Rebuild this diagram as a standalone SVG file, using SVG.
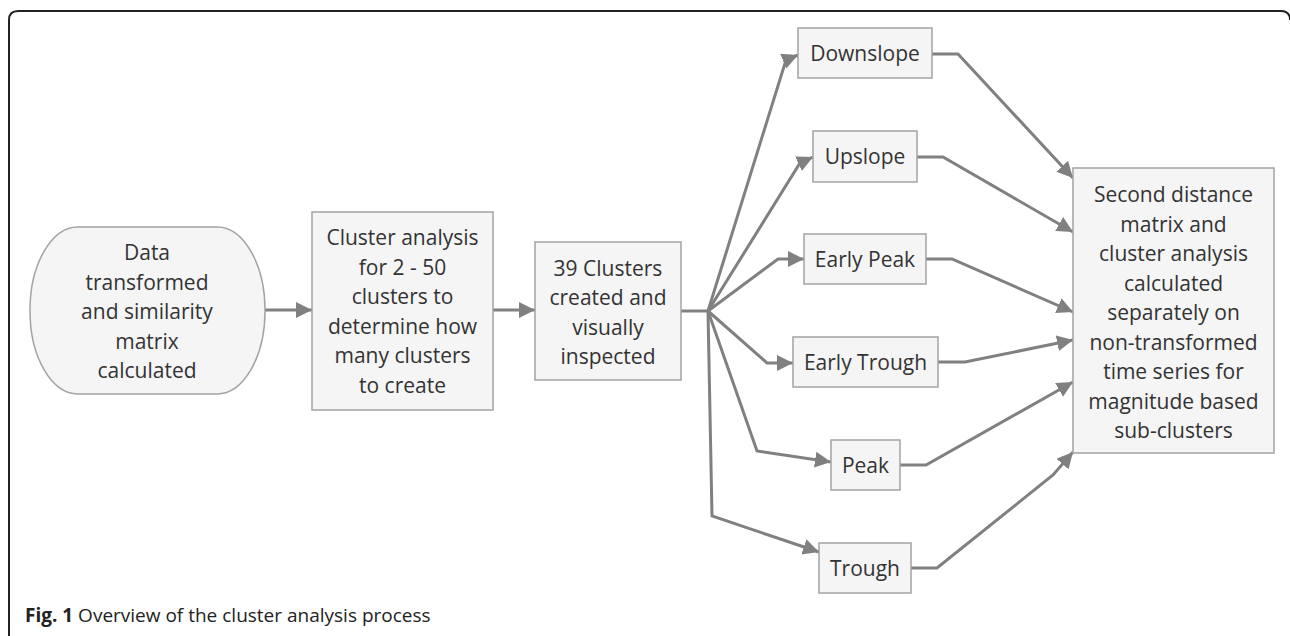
<svg xmlns="http://www.w3.org/2000/svg" width="1290" height="636" viewBox="0 0 1290 636">
<style>
.box{fill:#f5f5f5;stroke:#a3a3a3;stroke-width:1.5}
.t{font-family:"Open Sans","Noto Sans",sans-serif;font-size:21px;fill:#333;text-anchor:middle}
.c{fill:none;stroke:#808080;stroke-width:3;stroke-linejoin:miter;marker-end:url(#ah)}
.cap{font-family:"Open Sans","Noto Sans",sans-serif;font-size:19px;fill:#222}
</style>
<defs>
<marker id="ah" markerUnits="userSpaceOnUse" markerWidth="17" markerHeight="16" refX="16" refY="8" orient="auto">
<path d="M0,0 L16,8 L0,16 z" fill="#808080"/>
</marker>
</defs>
<rect width="1290" height="636" fill="#fff"/>
<path d="M9,636 V20 Q9,11 18,11 H1281 Q1290,11 1290,20" fill="none" stroke="#222" stroke-width="2"/>

<g id="connectors">
<path class="c" d="M265,310 H312"/>
<path class="c" d="M493,310 H535"/>
<path d="M681,311 H708" fill="none" stroke="#808080" stroke-width="3"/>
<path class="c" d="M708,311 L786,60 L798,55"/>
<path class="c" d="M708,311 L800,163 L813,157"/>
<path class="c" d="M708,311 L778,259 H804"/>
<path class="c" d="M708,311 L767,363 H793"/>
<path class="c" d="M708,311 L757,451 L831,462"/>
<path class="c" d="M708,311 L712,516 L819,552"/>
<path class="c" d="M932,54 H958 L1073,178"/>
<path class="c" d="M917,157 H943 L1073,232"/>
<path class="c" d="M926,259 H952 L1073,312"/>
<path class="c" d="M938,362 H965 L1073,340"/>
<path class="c" d="M900,465 H926 L1073,382"/>
<path class="c" d="M911,568 H937 L1053,475 L1073,452"/>
</g>

<g id="n1">
<rect class="box" x="30" y="227" width="235" height="167" rx="48" ry="83"/>
<text class="t" x="147" y="260">Data</text>
<text class="t" x="147" y="289.5">transformed</text>
<text class="t" x="147" y="319">and similarity</text>
<text class="t" x="147" y="348.5">matrix</text>
<text class="t" x="147" y="378">calculated</text>
</g>

<g id="n2">
<rect class="box" x="312" y="212" width="181" height="198"/>
<text class="t" x="402.5" y="245">Cluster analysis</text>
<text class="t" x="402.5" y="274.5">for 2 - 50</text>
<text class="t" x="402.5" y="304">clusters to</text>
<text class="t" x="402.5" y="333.5">determine how</text>
<text class="t" x="402.5" y="363">many clusters</text>
<text class="t" x="402.5" y="392.5">to create</text>
</g>

<g id="n3">
<rect class="box" x="535" y="242" width="146" height="138"/>
<text class="t" x="608" y="275.5">39 Clusters</text>
<text class="t" x="608" y="305">created and</text>
<text class="t" x="608" y="334.5">visually</text>
<text class="t" x="608" y="364">inspected</text>
</g>

<g id="downslope">
<rect class="box" x="798" y="28" width="134" height="50"/>
<text class="t" x="865" y="61">Downslope</text>
</g>
<g id="upslope">
<rect class="box" x="813" y="131" width="104" height="51"/>
<text class="t" x="865" y="164">Upslope</text>
</g>
<g id="earlypeak">
<rect class="box" x="804" y="234" width="122" height="50"/>
<text class="t" x="865" y="267">Early Peak</text>
</g>
<g id="earlytrough">
<rect class="box" x="793" y="337" width="145" height="50"/>
<text class="t" x="865.5" y="370">Early Trough</text>
</g>
<g id="peak">
<rect class="box" x="831" y="440" width="69" height="50"/>
<text class="t" x="865.5" y="473">Peak</text>
</g>
<g id="trough">
<rect class="box" x="819" y="543" width="92" height="50"/>
<text class="t" x="865" y="576">Trough</text>
</g>

<g id="n4">
<rect class="box" x="1073" y="168" width="201" height="285"/>
<text class="t" x="1173.5" y="202">Second distance</text>
<text class="t" x="1173.5" y="231.5">matrix and</text>
<text class="t" x="1173.5" y="261">cluster analysis</text>
<text class="t" x="1173.5" y="290.5">calculated</text>
<text class="t" x="1173.5" y="320">separately on</text>
<text class="t" x="1173.5" y="349.5">non-transformed</text>
<text class="t" x="1173.5" y="379">time series for</text>
<text class="t" x="1173.5" y="408.5">magnitude based</text>
<text class="t" x="1173.5" y="438">sub-clusters</text>
</g>

<text class="cap" x="25" y="622"><tspan font-weight="bold">Fig. 1</tspan> Overview of the cluster analysis process</text>
</svg>
